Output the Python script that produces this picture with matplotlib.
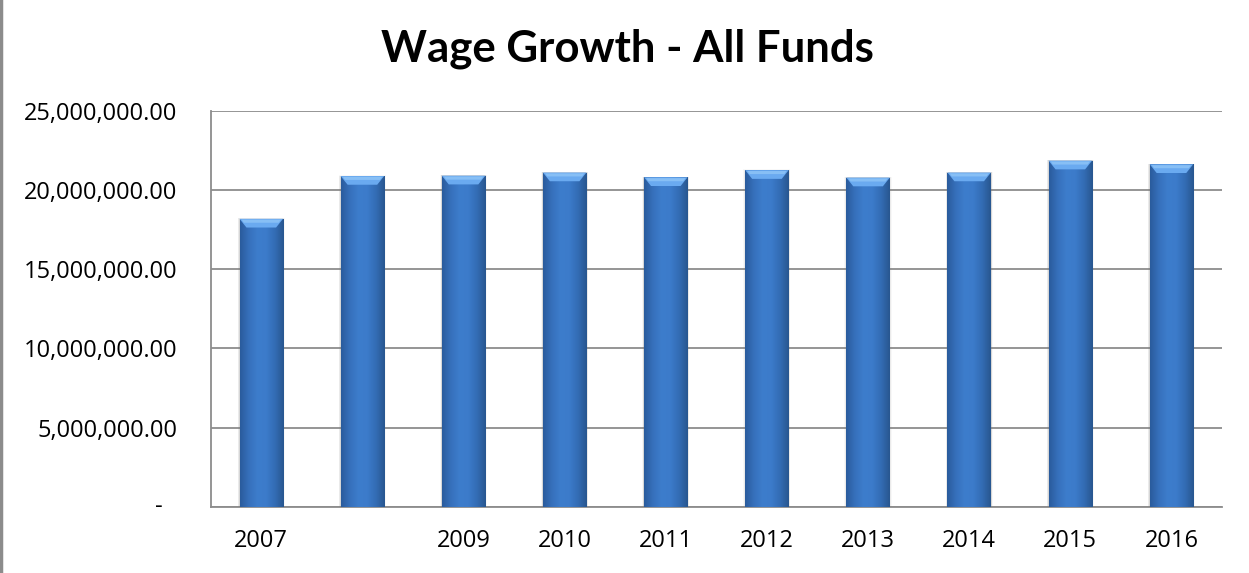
import numpy as np
import matplotlib
matplotlib.use("Agg")
import matplotlib.pyplot as plt
from matplotlib.ticker import FuncFormatter
from matplotlib.patches import Polygon, Rectangle
from matplotlib.colors import LinearSegmentedColormap

years = ["2007", "2008", "2009", "2010", "2011", "2012", "2013", "2014", "2015", "2016"]
shown_labels = ["2007", "", "2009", "2010", "2011", "2012", "2013", "2014", "2015", "2016"]
wages = [18180000, 20880000, 20900000, 21100000, 20800000,
         21250000, 20780000, 21100000, 21850000, 21620000]
y_ticks = [0, 5000000, 10000000, 15000000, 20000000, 25000000]

fig = plt.figure(figsize=(12.49, 5.73), dpi=100)
ax = fig.add_axes([0.1687, 0.1152, 0.8097, 0.6916])

x = np.arange(len(years))
width = 0.43
bars = ax.bar(x, wages, width=width, color="#3a77c4", zorder=3)

# horizontal shading across each bar: darker rims, bright middle
shade = LinearSegmentedColormap.from_list(
    "shade", ["#2a5b9c", "#3670bb", "#3d7dcc", "#3c7bca", "#336cb4", "#28568f"])
grad = np.linspace(0, 1, 256).reshape(1, -1)
for b in bars:
    x0, w, h = b.get_x(), b.get_width(), b.get_height()
    im = ax.imshow(grad, cmap=shade, aspect="auto", extent=[x0, x0 + w, 0, h],
                   zorder=4, interpolation="bicubic")
    im.set_clip_path(b)
    # bevelled top cap
    cap = 0.55e6
    inset = w * 0.16
    ax.add_patch(Polygon([[x0, h], [x0 + w, h], [x0 + w - inset, h - cap], [x0 + inset, h - cap]],
                         closed=True, facecolor="#6aaaf0", edgecolor="none", zorder=5))
    ax.add_patch(Polygon([[x0 + w * 0.05, h - cap * 0.1], [x0 + w * 0.95, h - cap * 0.1],
                          [x0 + w * 0.9, h - cap * 0.45], [x0 + w * 0.1, h - cap * 0.45]],
                         closed=True, facecolor="#94c8f8", edgecolor="none", zorder=5, alpha=0.7))
    # soft grey shadow around the sides
    for k, a in enumerate([0.18, 0.10, 0.05]):
        off = 0.006 * (k + 1)
        ax.add_patch(Rectangle((x0 - off, 0), w + 2 * off, h + off * 2.5e6, facecolor="#7a7a7a",
                               edgecolor="none", alpha=a, zorder=2.9))

ax.set_xlim(-0.5, len(years) - 0.5)
ax.set_ylim(0, 25000000)
ax.set_yticks(y_ticks)
ax.yaxis.set_major_formatter(FuncFormatter(lambda v, p: "" if v == 0 else f"{v:,.2f}"))
ax.set_xticks(x)
ax.set_xticklabels(shown_labels)
ax.text(-0.048, 0, "-", transform=ax.get_yaxis_transform(), ha="right", va="center",
        fontsize=17, family="Open Sans")

ax.grid(axis="y", color="#8c8c8c", linewidth=1.3, zorder=1)
ax.set_axisbelow(True)
for s in ["top", "right"]:
    ax.spines[s].set_visible(False)
for s in ["left", "bottom"]:
    ax.spines[s].set_color("#8c8c8c")
    ax.spines[s].set_linewidth(1.3)
ax.tick_params(axis="both", length=0, labelsize=17)
ax.tick_params(axis="y", pad=24)
ax.tick_params(axis="x", pad=16)
for lab in ax.get_xticklabels() + ax.get_yticklabels():
    lab.set_family("Open Sans")

fig.text(0.502, 0.892, "Wage Growth - All Funds", ha="center", va="baseline",
         fontsize=31.5, fontweight="bold", family="Lato")

# thin grey frame line at the left edge of the figure
fig.add_artist(plt.Line2D([0.001, 0.001], [0, 1], color="#8c8c8c", linewidth=2.5,
                          transform=fig.transFigure))

fig.savefig("out.png", dpi=100)
